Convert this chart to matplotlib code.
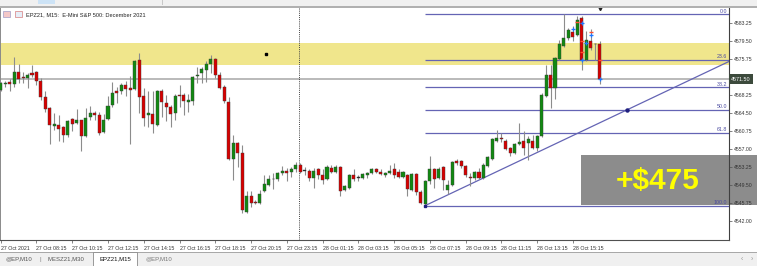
import matplotlib

matplotlib.use("Agg")
import matplotlib.pyplot as plt
import matplotlib.transforms as mtransforms
from matplotlib.patches import Rectangle

W, H, DPI = 757, 266, 100
FONT = ["Liberation Sans", "DejaVu Sans"]

# EPZ21 M15 bars, one value per bar (27 Oct 06:15 ... 28 Oct 16:45)
opens = [
    4569.25, 4570.5, 4571.0, 4570.5, 4573.0, 4572.0, 4571.75, 4572.75, 4573.0, 4571.25,
    4567.75, 4565.5, 4561.75, 4562.0, 4561.5, 4560.0, 4563.25, 4562.5, 4563.0, 4559.75,
    4563.75, 4564.5, 4564.0, 4560.5, 4563.25, 4566.25, 4569.0, 4569.0, 4570.25, 4569.75,
    4569.5, 4575.5, 4568.0, 4564.0, 4564.25, 4562.0, 4569.0, 4566.5, 4565.75, 4564.5,
    4568.25, 4568.25, 4566.75, 4567.0, 4572.25, 4572.75, 4573.5, 4574.75, 4575.75, 4572.5,
    4570.0, 4566.75, 4555.0, 4558.25, 4556.25, 4544.0, 4547.25, 4546.0, 4545.75, 4548.25,
    4549.5, 4550.75, 4550.75, 4552.0, 4552.5, 4552.25, 4552.75, 4553.75, 4552.5, 4552.5,
    4551.0, 4552.75, 4551.5, 4550.75, 4553.0, 4552.25, 4553.25, 4548.5, 4549.0, 4551.5,
    4551.0, 4551.0, 4551.5, 4552.0, 4552.75, 4552.25, 4551.5, 4552.0, 4552.75, 4552.25,
    4551.25, 4551.5, 4548.5, 4551.75, 4548.0, 4545.5, 4550.25, 4552.75, 4551.0, 4553.25,
    4548.5, 4549.5, 4554.5, 4554.5, 4553.5, 4551.25, 4551.0, 4552.25, 4551.0, 4553.5,
    4555.0, 4558.75, 4559.25, 4558.75, 4557.25, 4556.25, 4558.0, 4558.75, 4558.25, 4558.75,
    4557.25, 4559.75, 4568.0, 4572.5, 4569.75, 4575.75, 4578.5, 4580.0, 4581.25, 4580.75,
    4584.25, 4575.5, 4579.5, 4578.75, 4578.75,
]
highs = [
    4571.0, 4571.25, 4571.5, 4576.25, 4574.75, 4573.0, 4572.75, 4574.5, 4573.25, 4571.75,
    4569.0, 4565.75, 4564.5, 4564.0, 4561.75, 4563.0, 4563.5, 4565.25, 4563.0, 4565.5,
    4566.0, 4565.0, 4564.75, 4564.25, 4568.0, 4571.0, 4570.0, 4570.75, 4571.25, 4572.25,
    4575.5, 4577.0, 4569.75, 4569.0, 4569.0, 4569.25, 4569.5, 4568.25, 4566.25, 4568.5,
    4570.25, 4568.75, 4568.5, 4572.25, 4574.0, 4574.0, 4575.25, 4576.5, 4576.0, 4573.0,
    4570.25, 4567.75, 4560.0, 4558.5, 4557.75, 4548.25, 4548.25, 4546.5, 4548.5, 4551.5,
    4551.5, 4552.0, 4552.25, 4553.5, 4553.0, 4553.25, 4554.25, 4554.0, 4553.25, 4552.75,
    4553.0, 4553.0, 4552.75, 4553.75, 4553.75, 4553.75, 4553.5, 4549.5, 4551.75, 4552.75,
    4551.5, 4552.0, 4552.25, 4553.0, 4553.0, 4552.75, 4552.25, 4553.75, 4554.0, 4552.75,
    4552.5, 4551.75, 4552.0, 4552.0, 4548.5, 4550.5, 4555.5, 4553.0, 4553.25, 4553.5,
    4550.5, 4554.5, 4555.0, 4554.75, 4553.75, 4552.0, 4552.5, 4553.0, 4554.0, 4555.5,
    4559.25, 4561.0, 4560.25, 4559.0, 4557.5, 4558.25, 4562.5, 4560.75, 4559.75, 4560.0,
    4560.0, 4568.75, 4574.5, 4574.5, 4576.25, 4579.75, 4585.0, 4582.25, 4582.5, 4584.75,
    4584.75, 4581.5, 4582.0, 4579.0, 4579.5,
]
lows = [
    4569.0, 4570.0, 4569.0, 4570.0, 4570.75, 4570.75, 4569.75, 4572.0, 4570.25, 4567.25,
    4564.75, 4558.0, 4561.0, 4558.75, 4558.5, 4559.5, 4560.75, 4562.25, 4556.5, 4559.5,
    4563.0, 4563.0, 4560.0, 4560.25, 4563.0, 4565.75, 4566.5, 4568.5, 4568.0, 4558.0,
    4569.25, 4564.5, 4561.75, 4561.5, 4560.25, 4561.75, 4563.75, 4562.75, 4561.5, 4563.0,
    4565.75, 4564.0, 4564.75, 4566.25, 4570.75, 4570.75, 4571.0, 4572.75, 4571.75, 4569.5,
    4566.5, 4554.75, 4550.5, 4553.25, 4543.75, 4543.75, 4545.0, 4545.5, 4545.5, 4548.0,
    4549.25, 4548.75, 4550.25, 4551.5, 4550.25, 4551.25, 4552.25, 4552.0, 4551.5, 4550.25,
    4549.0, 4550.75, 4549.75, 4550.5, 4552.0, 4552.0, 4547.25, 4548.25, 4548.75, 4550.25,
    4550.25, 4550.75, 4551.0, 4551.75, 4552.0, 4551.5, 4551.25, 4551.75, 4551.0, 4551.0,
    4551.0, 4547.25, 4548.25, 4547.5, 4545.5, 4545.25, 4549.75, 4549.0, 4550.75, 4548.5,
    4547.75, 4549.25, 4553.75, 4553.0, 4551.25, 4549.25, 4550.5, 4550.75, 4550.75, 4553.25,
    4554.75, 4558.5, 4558.5, 4556.75, 4555.5, 4556.0, 4557.75, 4555.75, 4554.75, 4557.0,
    4556.5, 4559.5, 4567.75, 4565.5, 4567.5, 4575.5, 4578.25, 4579.75, 4579.5, 4580.5,
    4573.5, 4575.25, 4577.5, 4575.5, 4570.5,
]
closes = [
    4570.75, 4570.75, 4570.5, 4573.0, 4571.5, 4571.75, 4572.5, 4572.5, 4571.25, 4567.75,
    4565.25, 4562.0, 4562.25, 4561.25, 4560.0, 4562.75, 4562.25, 4563.0, 4559.75, 4563.5,
    4564.5, 4564.0, 4560.25, 4563.0, 4566.0, 4568.75, 4568.75, 4570.25, 4569.5, 4569.25,
    4575.25, 4567.75, 4563.5, 4564.5, 4562.25, 4569.0, 4566.75, 4565.75, 4564.25, 4568.0,
    4568.0, 4567.0, 4567.25, 4572.0, 4572.5, 4573.75, 4574.75, 4575.75, 4572.5, 4569.75,
    4567.0, 4555.0, 4558.25, 4556.25, 4544.25, 4547.25, 4545.75, 4545.75, 4547.75, 4549.75,
    4550.75, 4550.75, 4552.0, 4552.5, 4552.0, 4552.75, 4553.75, 4552.25, 4552.5, 4551.0,
    4552.5, 4551.5, 4550.5, 4553.25, 4552.25, 4553.25, 4548.25, 4549.25, 4551.5, 4550.75,
    4551.0, 4551.75, 4552.0, 4552.75, 4552.25, 4551.75, 4552.0, 4552.5, 4551.5, 4551.25,
    4552.25, 4548.75, 4551.75, 4548.0, 4545.75, 4550.25, 4552.75, 4550.75, 4552.75, 4550.5,
    4549.5, 4554.25, 4554.0, 4553.5, 4551.5, 4551.0, 4552.25, 4551.0, 4553.75, 4555.25,
    4559.0, 4559.25, 4559.0, 4557.0, 4556.25, 4558.0, 4558.5, 4557.25, 4559.0, 4557.25,
    4559.75, 4568.25, 4572.5, 4569.75, 4576.0, 4578.75, 4580.0, 4581.75, 4580.25, 4583.75,
    4575.5, 4579.75, 4578.0, 4578.75, 4571.5,
]

time_tick_bars = [0, 8, 16, 24, 32, 40, 48, 56, 64, 72, 80, 88, 96, 104, 112, 120, 128]
time_tick_labels = [
    "27 Oct 2021", "27 Oct 08:15", "27 Oct 10:15", "27 Oct 12:15", "27 Oct 14:15",
    "27 Oct 16:15", "27 Oct 18:15", "27 Oct 20:15", "27 Oct 23:15", "28 Oct 01:15",
    "28 Oct 03:15", "28 Oct 05:15", "28 Oct 07:15", "28 Oct 09:15", "28 Oct 11:15",
    "28 Oct 13:15", "28 Oct 15:15",
]
# 4572.00 sits under the bid tag, so only its tick mark shows
price_ticks = [4583.25, 4579.50, 4575.75, 4572.00, 4568.25, 4564.50, 4560.75,
               4557.00, 4553.25, 4549.50, 4545.75, 4542.00]
price_labels = ["4583.25", "4579.50", "4575.75", "", "4568.25", "4564.50", "4560.75",
                "4557.00", "4553.25", "4549.50", "4545.75", "4542.00"]

bid_price = 4571.50
zone_low, zone_high = 4574.50, 4579.00
fib_start_bar = 95
fib_high, fib_low = 4585.00, 4545.25
fib_ratios = [0.0, 23.6, 38.2, 50.0, 61.8, 100.0]
trend_bars = [95, 163]
trend_prices = [4545.25, 4575.25]
trend_point = (140, 4565.125)
vline_bar = 66.7
marker_dot = (59.35, 4576.75)
shift_bar = 134

buy_marks_bar = [128, 130, 130, 131, 132, 134]
buy_marks_price = [4582.0, 4583.25, 4575.5, 4579.0, 4580.75, 4571.5]
sell_marks_bar = [129, 130, 130, 132, 134]
sell_marks_price = [4583.5, 4579.5, 4577.25, 4581.25, 4575.5]

profit_text = "+$475"

GREEN = "#118a11"
RED = "#d80000"
WICK = "#8c8c8c"
FIB = "#6464b4"

fig = plt.figure(figsize=(W / DPI, H / DPI), dpi=DPI)
fig.patch.set_facecolor("white")


def px_rect(x0, y0, x1, y1, **kw):
    # rectangle given in screen pixels, y counted from the top
    r = Rectangle((x0 / W, 1 - y1 / H), (x1 - x0) / W, (y1 - y0) / H,
                  transform=fig.transFigure, **kw)
    fig.add_artist(r)
    return r


def px_text(x, y, s, **kw):
    kw.setdefault("family", FONT)
    return fig.text(x / W, 1 - y / H, s, **kw)


# window chrome: toolbar strip on top, tab strip at the bottom
px_rect(0, 0, W, 6.5, fc="#f0f0f0", ec="none", zorder=5)
px_rect(38, 0, 55, 4, fc="#cde3f6", ec="none", zorder=6)
px_rect(161.5, 0, 162.5, 5, fc="#c8c8c8", ec="none", zorder=6)
px_rect(0, 6, W, 8, fc="#b0b0b0", ec="none", zorder=6)
px_rect(0, 252, W, H, fc="#f0f0f0", ec="none", zorder=5)
px_rect(0, 251.5, W, 253, fc="#a8a8a8", ec="none", zorder=6)
px_rect(93, 252, 137, 265.5, fc="white", ec="#8a8a8a", lw=0.6, zorder=7)
px_text(5, 259, "@EP,M10", fontsize=4.3, color="#555555", va="center", zorder=8)
px_text(39, 259, "|", fontsize=4.5, color="#888888", va="center", zorder=8)
px_text(48, 259, "MESZ21,M30", fontsize=4.3, color="#555555", va="center", zorder=8)
px_text(99, 259, "EPZ21,M15", fontsize=4.3, color="#111111", va="center", zorder=8)
px_text(145, 259, "@EP,M10", fontsize=4.3, color="#777777", va="center", zorder=8)
px_text(741, 259, "\u2039", fontsize=5, color="#999999", va="center", zorder=8)
px_text(751, 259, "\u203a", fontsize=5, color="#999999", va="center", zorder=8)

# profit box sits behind the chart, reaching over the price scale
px_rect(581, 155, W, 205, fc="#8c8c8c", ec="none", zorder=-1)
px_text(658, 181, profit_text, fontsize=21.5, fontweight="bold", color="#ffff00",
        ha="center", va="center", zorder=-0.5)

ax = fig.add_axes([0, 1 - 240 / H, 729 / W, 232 / H])
ax.patch.set_visible(False)
ax.set_xlim(-0.157, 162.93)
ax.set_ylim(4538.08, 4586.34)
y_lbl = mtransforms.blended_transform_factory(ax.transAxes, ax.transData)
x_top = mtransforms.blended_transform_factory(ax.transData, ax.transAxes)

ax.axhspan(zone_low, zone_high, color="#f0e68c", lw=0, zorder=0)
ax.axhline(bid_price, color="#b4b4b4", lw=1.3, zorder=1)
ax.axvline(vline_bar, color="#404040", lw=0.7, ls=(0, (1, 1.2)), zorder=1)
ax.plot(*marker_dot, marker="s", ms=1.6, color="black", zorder=4)

# candles
bars = list(range(len(opens)))
colors = [GREEN if c > o else RED if c < o else "#202020" for o, c in zip(opens, closes)]
ax.vlines(bars, lows, highs, color=WICK, lw=0.8, zorder=3)
bottoms = [min(o, c) for o, c in zip(opens, closes)]
heights = [max(abs(c - o), 0.12) for o, c in zip(opens, closes)]
ax.bar(bars, heights, bottom=bottoms, width=0.68, color=colors,
       edgecolor="#3a3a3a", lw=0.3, zorder=3.5)

# fibonacci retracement + trend line
for r in fib_ratios:
    level = fib_high - (fib_high - fib_low) * r / 100
    ax.hlines(level, fib_start_bar, 163, color=FIB, lw=0.9, zorder=2)
    ax.text(0.997, level + 0.15, f"{r:.1f}", transform=y_lbl, ha="right",
            va="bottom", fontsize=3.8, color="#4a4aa0", family=FONT, zorder=5)
ax.plot(trend_bars, trend_prices, color=FIB, lw=0.9, zorder=2)
ax.plot(*trend_point, marker="o", ms=2.2, color="#202080", zorder=4)
ax.plot(fib_start_bar, fib_low, marker="s", ms=1.8, color="#202080", zorder=4)

# trade arrows
ax.plot(buy_marks_bar, buy_marks_price, ls="none", marker="+", ms=2.6, mew=0.9,
        color="#1e78ff", zorder=5)
ax.plot(sell_marks_bar, sell_marks_price, ls="none", marker="_", ms=2.6, mew=1.0,
        color="#ff5030", zorder=5)
ax.plot(shift_bar, 1.0, marker="v", ms=3, color="#202020", transform=x_top,
        clip_on=False, zorder=6)

# axes frame
ax.spines["top"].set_visible(False)
ax.spines["left"].set_color("#8a8a8a")
ax.spines["left"].set_linewidth(1.4)
ax.spines["bottom"].set_color("#505050")
ax.spines["bottom"].set_linewidth(0.8)
ax.spines["right"].set_color("#404040")
ax.spines["right"].set_linewidth(0.8)
ax.spines["right"].set_linestyle((0, (1, 1)))

ax.set_xticks(time_tick_bars)
ax.set_xticklabels(time_tick_labels, ha="left", fontsize=3.8, color="#333333",
                   family=FONT)
ax.tick_params(axis="x", length=2.5, width=0.5, color="#505050", pad=1.5)
ax.yaxis.tick_right()
ax.set_yticks(price_ticks)
ax.set_yticklabels(price_labels, fontsize=3.7, color="#333333", family=FONT)
ax.tick_params(axis="y", length=2, width=0.5, color="#505050", pad=1.5)

# current price tag
ax.text(1.003, bid_price, f"{bid_price:.2f}", transform=y_lbl, ha="left",
        va="center", fontsize=3.9, color="white", family=FONT, clip_on=False,
        bbox=dict(boxstyle="square,pad=0.45", fc="#3c4a3c", ec="none"), zorder=10)

# chart title with its two little icons
px_rect(3, 11, 10, 17, fc="#f4c8c8", ec="#8a8ac0", lw=0.4, zorder=5)
px_rect(15, 11, 22, 17, fc="#e6eef8", ec="#d06060", lw=0.4, zorder=5)
px_text(26, 14.5, "EPZ21, M15:  E-Mini S&P 500: December 2021", fontsize=4.1,
        color="#222222", va="center", zorder=5)

fig.savefig("out.png", dpi=DPI, facecolor=fig.get_facecolor())
